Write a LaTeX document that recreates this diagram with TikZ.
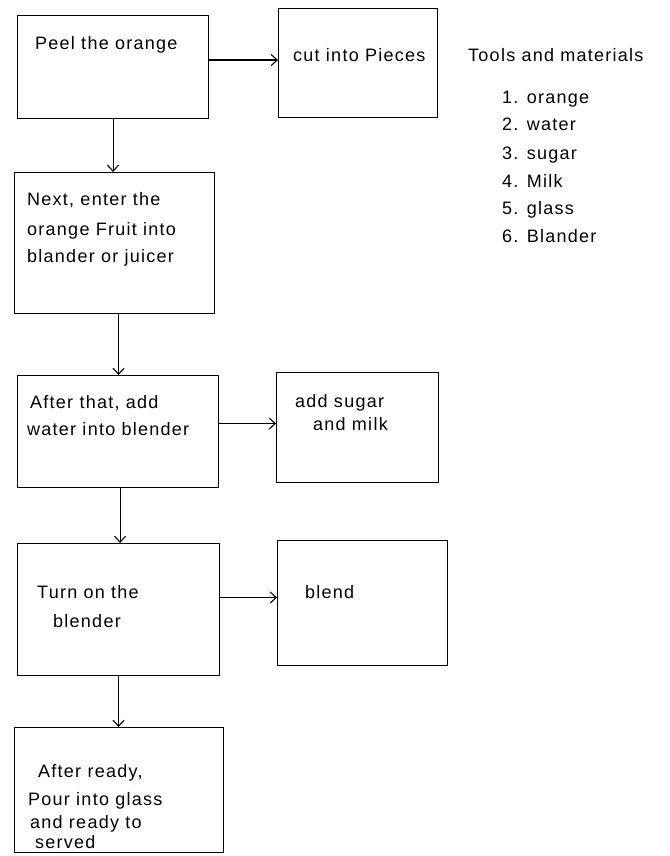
\documentclass[tikz,border=0pt]{standalone}
\usepackage{fontspec}
\setmainfont{Liberation Sans}[LetterSpace=7]
\usetikzlibrary{arrows.meta}

\tikzset{
  stepbox/.style={draw, line width=1.1pt, anchor=north west, inner sep=0pt},
  steptext/.style={anchor=base west, inner sep=0pt, font=\fontsize{18}{22}\selectfont},
  flow/.style={line width=1.1pt, -{Straight Barb[length=6pt,width=11pt]}},
}

\begin{document}
\begin{tikzpicture}[x=1pt, y=-1pt]
    \useasboundingbox (0, 0) rectangle (669, 856);
    \node[stepbox, minimum width=191pt, minimum height=103pt] (peel) at (17, 15) {};
    \node[stepbox, minimum width=159pt, minimum height=109pt] (cut) at (278, 8) {};
    \node[stepbox, minimum width=200pt, minimum height=141pt] (next) at (14, 172) {};
    \node[stepbox, minimum width=201pt, minimum height=112pt] (water) at (17, 375) {};
    \node[stepbox, minimum width=162pt, minimum height=110pt] (sugar) at (276, 372) {};
    \node[stepbox, minimum width=202pt, minimum height=132pt] (turn) at (17, 543) {};
    \node[stepbox, minimum width=170pt, minimum height=125pt] (blend) at (277, 540) {};
    \node[stepbox, minimum width=209pt, minimum height=125pt] (pour) at (14, 727) {};

    \node[steptext] (peeltxt) at (35, 50) {Peel the orange};
    \node[steptext] (cuttxt) at (293, 62) {cut into Pieces};
    \node[steptext] (nexta) at (27, 205) {Next, enter the};
    \node[steptext] (nextb) at (27, 235) {orange Fruit into};
    \node[steptext] (nextc) at (27, 262) {blander or juicer};
    \node[steptext] (watera) at (30, 408) {After that, add};
    \node[steptext] (waterb) at (27, 435) {water into blender};
    \node[steptext] (sugara) at (295, 407) {add sugar};
    \node[steptext] (sugarb) at (313, 430) {and milk};
    \node[steptext] (turna) at (37, 598) {Turn on the};
    \node[steptext] (turnb) at (53, 627) {blender};
    \node[steptext] (blendtxt) at (305, 598) {blend};
    \node[steptext] (poura) at (38, 777) {After ready,};
    \node[steptext] (pourb) at (28, 805) {Pour into glass};
    \node[steptext] (pourc) at (30, 828) {and ready to};
    \node[steptext] (pourd) at (35, 848) {served};

    \node[steptext] (tools) at (468, 62) {Tools and materials};
    \node[steptext] (item1) at (502, 104) {1. orange};
    \node[steptext] (item2) at (502, 131) {2. water};
    \node[steptext] (item3) at (502, 159) {3. sugar};
    \node[steptext] (item4) at (502, 187) {4. Milk};
    \node[steptext] (item5) at (502, 214) {5. glass};
    \node[steptext] (item6) at (502, 242) {6. Blander};

    \draw[flow] ([yshift=7pt]peel.east) -- ([yshift=7pt]peel.east -| cut.west);
    \draw[flow] (peel.south) -- (peel.south |- next.north);
    \draw[flow] ([xshift=4pt]next.south) -- ([xshift=4pt]next.south |- water.north);
    \draw[flow] ([yshift=8pt]water.east) -- ([yshift=8pt]water.east -| sugar.west);
    \draw[flow] ([xshift=2pt]water.south) -- ([xshift=2pt]water.south |- turn.north);
    \draw[flow] ([yshift=12pt]turn.east) -- ([yshift=12pt]turn.east -| blend.west);
    \draw[flow] (turn.south) -- (turn.south |- pour.north);
\end{tikzpicture}
\end{document}
